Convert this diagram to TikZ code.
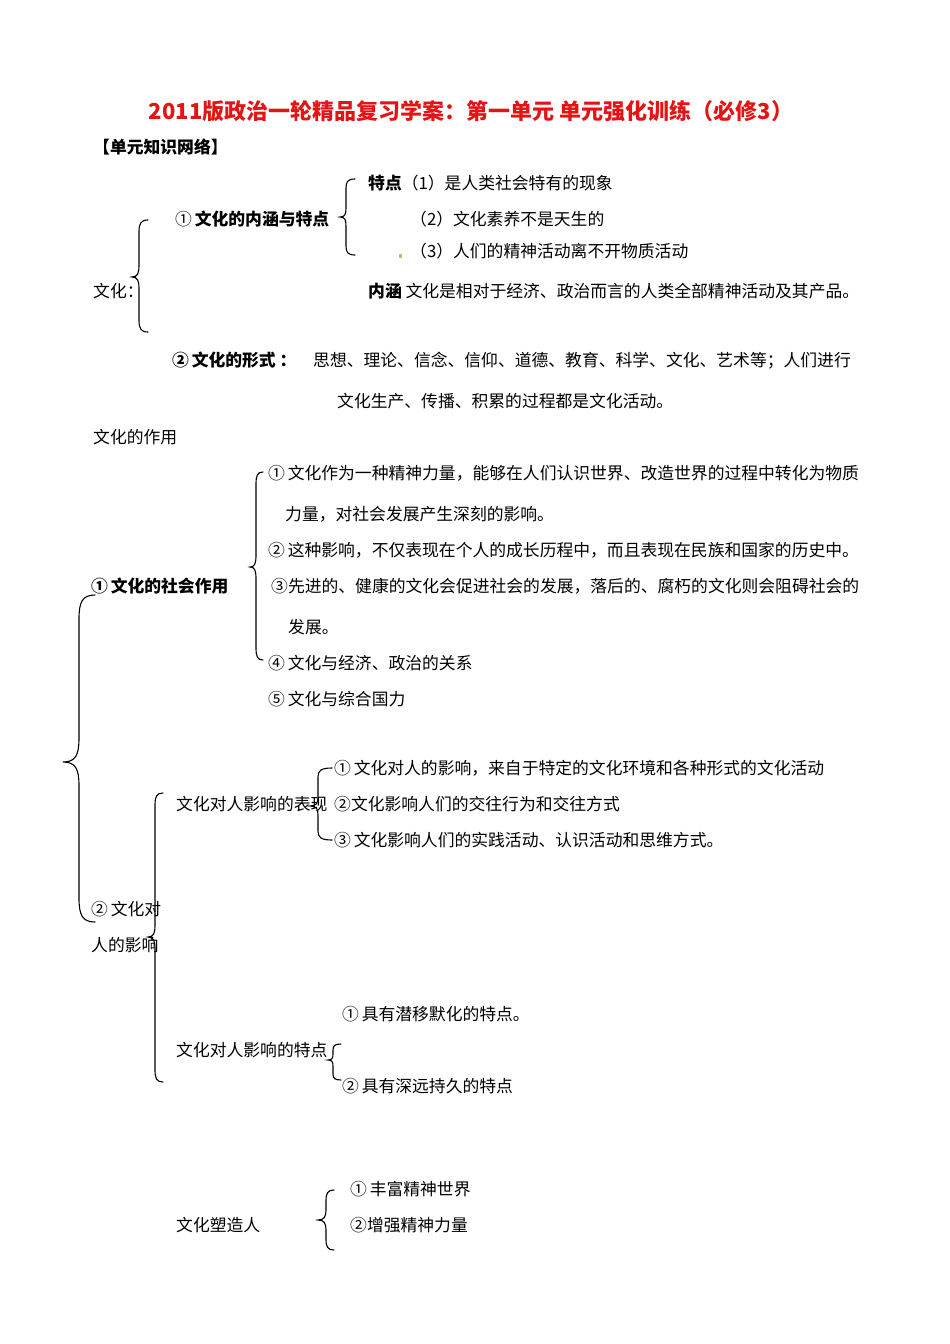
\documentclass[tikz,border=0pt]{standalone}
\usepackage{fontspec}
\setmainfont{Noto Sans CJK SC}
\definecolor{titlered}{RGB}{228,20,20}
\definecolor{dotcol}{RGB}{200,185,110}
\newcommand\mybrace[7]{%
  \draw[bracestyle] (#1,#4) .. controls ({#2+0.2*(#1-#2)},#4) and (#2,{#4+0.3*#7}) .. (#2,{#4+#7}) -- (#2,{#5-#7})
    .. controls (#2,{#5-0.3*#7}) and ({#2-0.2*(#2-#3)},#5) .. (#3,#5)
    .. controls ({#2-0.2*(#2-#3)},#5) and (#2,{#5+0.3*#7}) .. (#2,{#5+#7})
    -- (#2,{#6-#7}) .. controls (#2,{#6-0.3*#7}) and ({#2+0.2*(#1-#2)},#6) .. (#1,#6);}
\begin{document}
\begin{tikzpicture}[x=1pt,y=-1pt,
  txt/.style={anchor=base west, inner sep=0pt, font=\fontsize{16.8}{20}\selectfont},
  bld/.style={anchor=base west, inner sep=0pt, font=\fontsize{16.8}{20}\selectfont\bfseries},
  titlestyle/.style={anchor=base, inner sep=0pt, text=titlered, font=\fontsize{22}{26}\selectfont\bfseries},
  bracestyle/.style={line width=1.1pt, line cap=round}]
\useasboundingbox[fill=white] (0,0) rectangle (950,1344);

% title
\node[titlestyle] (title) at (471,119) {2011版政治一轮精品复习学案：第一单元 单元强化训练（必修3）};
\node[bld] (net) at (93,153) {【单元知识网络】};

% part 1
\node[txt] (tz1) at (368,189) {\textbf{特点}（1）是人类社会特有的现象};
\node[txt] (tz2) at (410,225) {（2）文化素养不是天生的};
\node[txt] (tz3) at (410,257) {（3）人们的精神活动离不开物质活动};
\fill[dotcol] (398.5,254) rectangle (402,258);
\node[txt] (nhtd) at (175,225) {①\,\textbf{文化的内涵与特点}};
\node[txt] (wh) at (93,297) {文化：};
\node[txt] (nh) at (368,297) {\textbf{内涵}\ 文化是相对于经济、政治而言的人类全部精神活动及其产品。};
\mybrace{355}{346}{340}{179}{217}{255}{9}
\mybrace{148}{139}{132}{220}{277}{332}{12}

\node[bld] (xs) at (172,366) {②\,文化的形式\ ：};
\node[txt] (xs1) at (313,366) {思想、理论、信念、信仰、道德、教育、科学、文化、艺术等；人们进行};
\node[txt] (xs2) at (337,407) {文化生产、传播、积累的过程都是文化活动。};
\node[txt] (zy) at (93,443) {文化的作用};

% social role
\node[bld] (shzy) at (91,592) {①\,文化的社会作用};
\node[txt] (s1) at (268,479) {①\,文化作为一种精神力量，能够在人们认识世界、改造世界的过程中转化为物质};
\node[txt] (s1b) at (285,520) {力量，对社会发展产生深刻的影响。};
\node[txt] (s2) at (268,556) {②\,这种影响，不仅表现在个人的成长历程中，而且表现在民族和国家的历史中。};
\node[txt] (s3) at (271,592) {③先进的、健康的文化会促进社会的发展，落后的、腐朽的文化则会阻碍社会的};
\node[txt] (s3b) at (288,633) {发展。};
\node[txt] (s4) at (268,669) {④\,文化与经济、政治的关系};
\node[txt] (s5) at (268,705) {⑤\,文化与综合国力};
\mybrace{263}{256}{250}{472}{567}{660}{12}

% big brace
\mybrace{95}{79}{63}{595}{762}{922}{24}

% influence on people
\node[txt] (rya) at (91,915) {②\,文化对};
\node[txt] (ryb) at (91,951) {人的影响};
\mybrace{163}{155}{148}{793}{937}{1082}{12}

\node[txt] (bx) at (176,810) {文化对人影响的表现};
\mybrace{332}{318}{310}{768}{806}{840}{9}
\node[txt] (bx1) at (334,774) {①\,文化对人的影响，来自于特定的文化环境和各种形式的文化活动};
\node[txt] (bx2) at (334,810) {②文化影响人们的交往行为和交往方式};
\node[txt] (bx3) at (334,846) {③\,文化影响人们的实践活动、认识活动和思维方式。};

\node[txt] (td) at (176,1056) {文化对人影响的特点};
\mybrace{341}{333}{328}{1044}{1060}{1080}{6}
\node[txt] (td1) at (342,1020) {①\,具有潜移默化的特点。};
\node[txt] (td2) at (342,1092) {②\,具有深远持久的特点};

\node[txt] (sz) at (176,1231) {文化塑造人};
\mybrace{334}{326}{318}{1190}{1220}{1250}{11}
\node[txt] (sz1) at (350,1195) {①\,丰富精神世界};
\node[txt] (sz2) at (350,1231) {②增强精神力量};
\end{tikzpicture}
\end{document}
